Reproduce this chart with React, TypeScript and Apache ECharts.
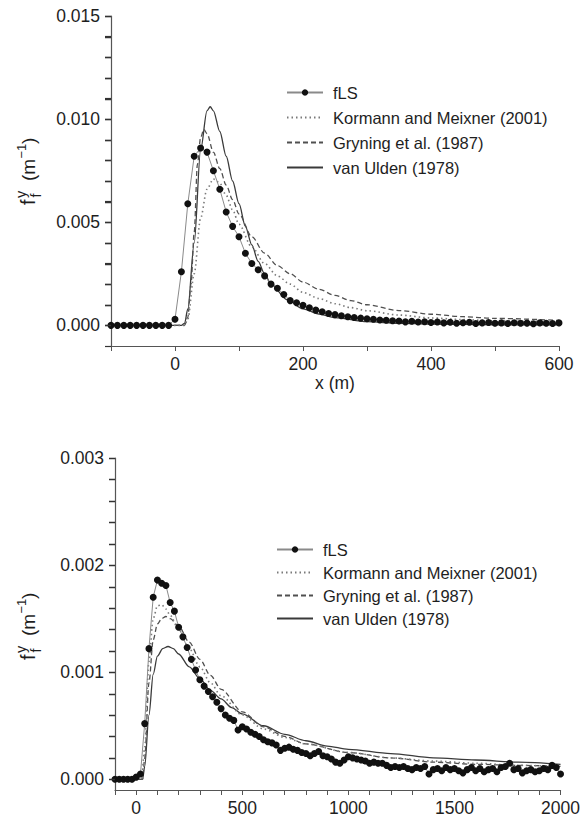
import React, { useEffect, useRef } from "react";
import * as echarts from "echarts";

const FONT = "'Liberation Sans', Arial, Helvetica, sans-serif";
const seriesNames = ["fLS", "Kormann and Meixner (2001)", "Gryning et al. (1987)", "van Ulden (1978)"];

// ---------- Top panel (x: -100..600 m) ----------
const topFlsStart = -100;
const topFlsStep = 10;
const topFls = [
  0, 0, 0, 0, 0, 0, 0, 0, 0, 0,
  0.0003, 0.0026, 0.0059, 0.0082, 0.0086, 0.0084, 0.0075, 0.0066, 0.0055, 0.0048,
  0.0043, 0.0035, 0.003, 0.0027, 0.0024, 0.002, 0.0018, 0.0015, 0.0012, 0.0011,
  0.00097, 0.00085, 0.00074, 0.00066, 0.00058, 0.00052, 0.00047, 0.00042, 0.00038, 0.00035,
  0.00032, 0.0003, 0.00026, 0.00025, 0.00022, 0.00021, 0.00017, 0.0002, 0.00016, 0.00018,
  0.00014, 0.00016, 0.00012, 0.00015, 0.0001, 0.00013, 0.00015, 0.00009, 0.00012, 0.00014,
  0.0001, 0.00012, 0.00009, 0.00013, 0.0001, 0.00011, 0.00008, 0.00012, 0.0001, 0.00009,
  0.00012,
];
const topKormannX = [-100, 0, 15, 20, 30, 40, 50, 60, 70, 80, 90, 100, 120, 140, 160, 180, 200, 225, 250, 275, 300, 350, 400, 450, 500, 600];
const topKormannY = [0, 0, 0, 0.0003, 0.0025, 0.0052, 0.0066, 0.0071, 0.0069, 0.0063, 0.0056, 0.0049, 0.0038, 0.003, 0.0024, 0.002, 0.0016, 0.0013, 0.00105, 0.00086, 0.00071, 0.0005, 0.00036, 0.00028, 0.00022, 0.00015];
const topGryningX = [-100, 0, 15, 20, 25, 30, 35, 40, 45, 50, 60, 70, 80, 90, 100, 120, 140, 160, 180, 200, 225, 250, 275, 300, 350, 400, 450, 500, 600];
const topGryningY = [0, 0, 0, 0.0004, 0.002, 0.0045, 0.0078, 0.0091, 0.0095, 0.0093, 0.0084, 0.0076, 0.0068, 0.0061, 0.0054, 0.0043, 0.0035, 0.0029, 0.0025, 0.0021, 0.00175, 0.00145, 0.0012, 0.001, 0.00072, 0.00054, 0.00042, 0.00034, 0.00024];
const topUldenX = [-100, 0, 10, 15, 20, 30, 40, 50, 55, 60, 70, 80, 90, 100, 110, 120, 130, 140, 150, 175, 200, 225, 250, 300, 350, 400, 500, 600];
const topUldenY = [0, 0, 0, 0.0001, 0.0008, 0.004, 0.0085, 0.0104, 0.0106, 0.0104, 0.0094, 0.0082, 0.007, 0.0059, 0.0048, 0.0039, 0.0031, 0.0025, 0.002, 0.00125, 0.0008, 0.00055, 0.00038, 0.00018, 0.0001, 0.00006, 0.00003, 0.00002];
const topXTickLabels = [0, 200, 400, 600];
const topYTickLabels = [0, 0.005, 0.01, 0.015];
const topYTicks = [0, 0.001, 0.002, 0.003, 0.004, 0.005, 0.006, 0.007, 0.008, 0.009, 0.01, 0.011, 0.012, 0.013, 0.014, 0.015];

// ---------- Bottom panel (x: -100..2000 m) ----------
const botFlsStart = -100;
const botFlsStep = 20;
const botFls = [
  0, 0, 0, 0, 0, 0.00002, 0.00005, 0.00052, 0.00122, 0.0017,
  0.00186, 0.00183, 0.00181, 0.00165, 0.00157, 0.00142, 0.00133, 0.00123, 0.00112, 0.00102,
  0.00093, 0.00087, 0.00082, 0.00077, 0.00072, 0.00066, 0.0006, 0.00057, 0.00055, 0.00046,
  0.00049, 0.00047, 0.00044, 0.00042, 0.0004, 0.00037, 0.00035, 0.00034, 0.00032, 0.00027,
  0.00029, 0.0003, 0.00028, 0.00027, 0.00025, 0.00024, 0.00022, 0.00024, 0.00026, 0.00022,
  0.00021, 0.00019, 0.00016, 0.00015, 0.00018, 0.00021, 0.0002, 0.00019, 0.00018, 0.00017,
  0.00015, 0.00016, 0.00015, 0.00015, 0.00013, 0.00011, 0.00012, 0.00011, 0.00012, 0.0001,
  0.00009, 0.00011, 0.0001, 0.00012, 0.00005, 0.00009, 0.0001, 0.00008, 0.00011, 0.00009,
  0.0001, 0.00008, 0.00006, 0.00009, 0.00011, 0.00008, 0.0001, 0.00007, 0.00009, 0.0001,
  0.00007, 0.00011, 0.00012, 0.00015, 0.00009, 0.0001, 0.00006, 0.00008, 0.00009, 0.00007,
  0.00008, 0.0001, 0.00009, 0.00013, 0.00011, 0.00005,
];
const botKormannX = [-100, 0, 25, 40, 60, 80, 100, 120, 140, 160, 200, 250, 300, 350, 400, 500, 600, 700, 800, 1000, 1200, 1400, 1600, 1800, 2000];
const botKormannY = [0, 0, 0, 0.0003, 0.0011, 0.0015, 0.00162, 0.00163, 0.00159, 0.00153, 0.0014, 0.00122, 0.00105, 0.0009, 0.00078, 0.0006, 0.00047, 0.00039, 0.00033, 0.00025, 0.0002, 0.00017, 0.00015, 0.00013, 0.00012];
const botGryningX = [-100, 0, 30, 40, 60, 80, 100, 120, 140, 160, 200, 250, 300, 350, 400, 500, 600, 700, 800, 1000, 1200, 1400, 1600, 1800, 2000];
const botGryningY = [0, 0, 0, 0.0002, 0.0009, 0.0013, 0.00145, 0.0015, 0.00152, 0.0015, 0.00143, 0.00128, 0.00112, 0.00097, 0.00084, 0.00063, 0.00049, 0.0004, 0.00033, 0.00025, 0.0002, 0.00016, 0.00014, 0.00013, 0.00012];
const botUldenX = [-100, 0, 30, 40, 60, 80, 100, 125, 150, 175, 200, 250, 300, 350, 400, 450, 500, 600, 700, 800, 900, 1000, 1200, 1400, 1600, 1800, 2000];
const botUldenY = [0, 0, 0, 0.00012, 0.0006, 0.00098, 0.00115, 0.00122, 0.00124, 0.00122, 0.00117, 0.00105, 0.00094, 0.00083, 0.00075, 0.00067, 0.00061, 0.0005, 0.00042, 0.00036, 0.00031, 0.00028, 0.00024, 0.0002, 0.00018, 0.00016, 0.00014];
const botXTickLabels = [0, 500, 1000, 1500, 2000];
const botYTickLabels = [0, 0.001, 0.002, 0.003];
const botYTicks = [0, 0.0002, 0.0004, 0.0006, 0.0008, 0.001, 0.0012, 0.0014, 0.0016, 0.0018, 0.002, 0.0022, 0.0024, 0.0026, 0.0028, 0.003];

const pairs = (xs: number[], ys: number[]) => xs.map((x, i) => [x, ys[i]]);
const grid = (start: number, step: number, ys: number[]) => ys.map((y, i) => [start + step * i, y]);

const TEXT = "#1e1e1e";
const AXIS = "#555";

function makeSeries(gi: number, fls: number[][], kor: number[][], gry: number[][], uld: number[][]) {
  const base = { type: "line", xAxisIndex: gi, yAxisIndex: gi, animation: false };
  return [
    {
      ...base, name: seriesNames[3], data: uld, symbol: "none", smooth: 0.3, smoothMonotone: "x",
      lineStyle: { color: "#3a3a3a", width: 1.3, type: "solid" }, itemStyle: { color: "#3a3a3a" }, z: 3,
    },
    {
      ...base, name: seriesNames[2], data: gry, symbol: "none", smooth: 0.3, smoothMonotone: "x",
      lineStyle: { color: "#505050", width: 1.3, type: [5, 3] }, itemStyle: { color: "#505050" }, z: 3,
    },
    {
      ...base, name: seriesNames[1], data: kor, symbol: "none", smooth: 0.3, smoothMonotone: "x",
      lineStyle: { color: "#7a7a7a", width: 1.6, type: [1.5, 3] }, itemStyle: { color: "#7a7a7a" }, z: 3,
    },
    {
      ...base, name: seriesNames[0], data: fls, symbol: "circle", symbolSize: 7, showSymbol: true,
      lineStyle: { color: "#8a8a8a", width: 1 }, itemStyle: { color: "#111" }, z: 4,
    },
  ];
}

// y-axis tick marks drawn by a custom series through the axis scale
function tickSeries(gi: number, ticks: number[]) {
  return {
    type: "custom", xAxisIndex: gi, yAxisIndex: gi, silent: true, clip: false, z: 10, zlevel: 0,
    data: ticks.map((v) => [-100, v]),
    renderItem: (_p: any, api: any) => {
      const pt = api.coord([api.value(0), api.value(1)]);
      const y = Math.round(pt[1]) + 0.5;
      return {
        type: "rect",
        shape: { x: pt[0] - 6, y: y - 0.75, width: 6, height: 1.5 },
        style: { fill: "#333" },
      };
    },
  };
}

function yTitle(cx: number, y0: number) {
  const big = 20;
  const small = 14.5;
  const common = { fill: TEXT, fontFamily: FONT, verticalAlign: "middle", align: "left" };
  return {
    type: "group",
    x: cx,
    y: y0,
    rotation: Math.PI / 2,
    children: [
      { type: "text", x: 0, y: 0, style: { ...common, text: "f", fontSize: big } },
      { type: "text", x: 7, y: -7.5, style: { ...common, text: "y", fontSize: small } },
      { type: "text", x: 7.5, y: 7.5, style: { ...common, text: "f", fontSize: small } },
      { type: "text", x: 24, y: 0, style: { ...common, text: "(m", fontSize: 19 } },
      { type: "text", x: 46.5, y: -7, style: { ...common, text: "\u22121", fontSize: 13 } },
      { type: "text", x: 61, y: 0, style: { ...common, text: ")", fontSize: 19 } },
    ],
  };
}

function xAxisCfg(gi: number, max: number, labels: number[], name: string) {
  return {
    type: "value", gridIndex: gi, min: -100, max, interval: 100,
    name, nameLocation: "middle", nameGap: 27,
    nameTextStyle: { color: TEXT, fontSize: 17.5, fontFamily: FONT },
    axisLine: { show: true, onZero: false, lineStyle: { color: AXIS, width: 1.2 } },
    axisTick: { show: true, length: 5, lineStyle: { color: AXIS, width: 1 } },
    axisLabel: {
      color: TEXT, fontSize: 17.5, fontFamily: FONT, margin: 9,
      formatter: (v: number) => (labels.some((l) => Math.abs(l - v) < 1e-6) ? String(v) : ""),
    },
    splitLine: { show: false },
  };
}

function legendCfg(left: number, top: number, gap: number) {
  return {
    orient: "vertical", left, top, itemWidth: 36, itemHeight: 8, itemGap: gap,
    data: seriesNames.map((n, i) =>
      i === 0
        ? { name: n }
        : { name: n, itemStyle: { color: "rgba(0,0,0,0)", borderColor: "rgba(0,0,0,0)", opacity: 0 } }
    ),
    selectedMode: false,
    textStyle: { color: TEXT, fontSize: 16.5, fontFamily: FONT, padding: [0, 0, 0, 5] },
  };
}

export default function App() {
  const ref = useRef<HTMLDivElement>(null);
  useEffect(() => {
    if (!ref.current) return;
    const chart = echarts.init(ref.current, null, { renderer: "svg" });
    chart.setOption({
      animation: false,
      backgroundColor: "#fff",
      textStyle: { fontFamily: FONT },
      grid: [
        { left: 111, top: 16, width: 448, height: 330 },
        { left: 115, top: 458, width: 448, height: 332 },
      ],
      xAxis: [
        xAxisCfg(0, 600, topXTickLabels, "x (m)"),
        xAxisCfg(1, 2000, botXTickLabels, ""),
      ],
      yAxis: [
        {
          type: "value", gridIndex: 0, min: -0.001, max: 0.015, interval: 0.001,
          axisLine: { show: true, onZero: false, lineStyle: { color: AXIS, width: 1.2 } },
          axisTick: { show: true, length: 6, lineStyle: { color: "#333", width: 1.2 } },
          axisLabel: {
            color: TEXT, fontSize: 17.5, fontFamily: FONT, margin: 11, customValues: topYTickLabels,
            formatter: (v: number) => v.toFixed(3),
          },
          splitLine: { show: false },
        },
        {
          type: "value", gridIndex: 1, min: -0.0001, max: 0.003,
          axisLine: { show: true, onZero: false, lineStyle: { color: AXIS, width: 1.2 } },
          axisTick: { show: false },
          axisLabel: {
            color: TEXT, fontSize: 17.5, fontFamily: FONT, margin: 11, customValues: botYTickLabels,
            formatter: (v: number) => v.toFixed(3),
          },
          splitLine: { show: false },
        },
      ],
      legend: [legendCfg(281, 79, 8), legendCfg(271, 536, 6)],
      graphic: [yTitle(28, 205), yTitle(28, 660)],
      series: [
        ...makeSeries(0, grid(topFlsStart, topFlsStep, topFls), pairs(topKormannX, topKormannY), pairs(topGryningX, topGryningY), pairs(topUldenX, topUldenY)),
        ...makeSeries(1, grid(botFlsStart, botFlsStep, botFls), pairs(botKormannX, botKormannY), pairs(botGryningX, botGryningY), pairs(botUldenX, botUldenY)),
        tickSeries(0, topYTicks),
        tickSeries(1, botYTicks),
      ],
    });
    return () => chart.dispose();
  }, []);
  return (
    <div
      ref={ref}
      style={{ position: "absolute", left: 0, top: 0, width: 583, height: 822, background: "#fff" }}
    />
  );
}
